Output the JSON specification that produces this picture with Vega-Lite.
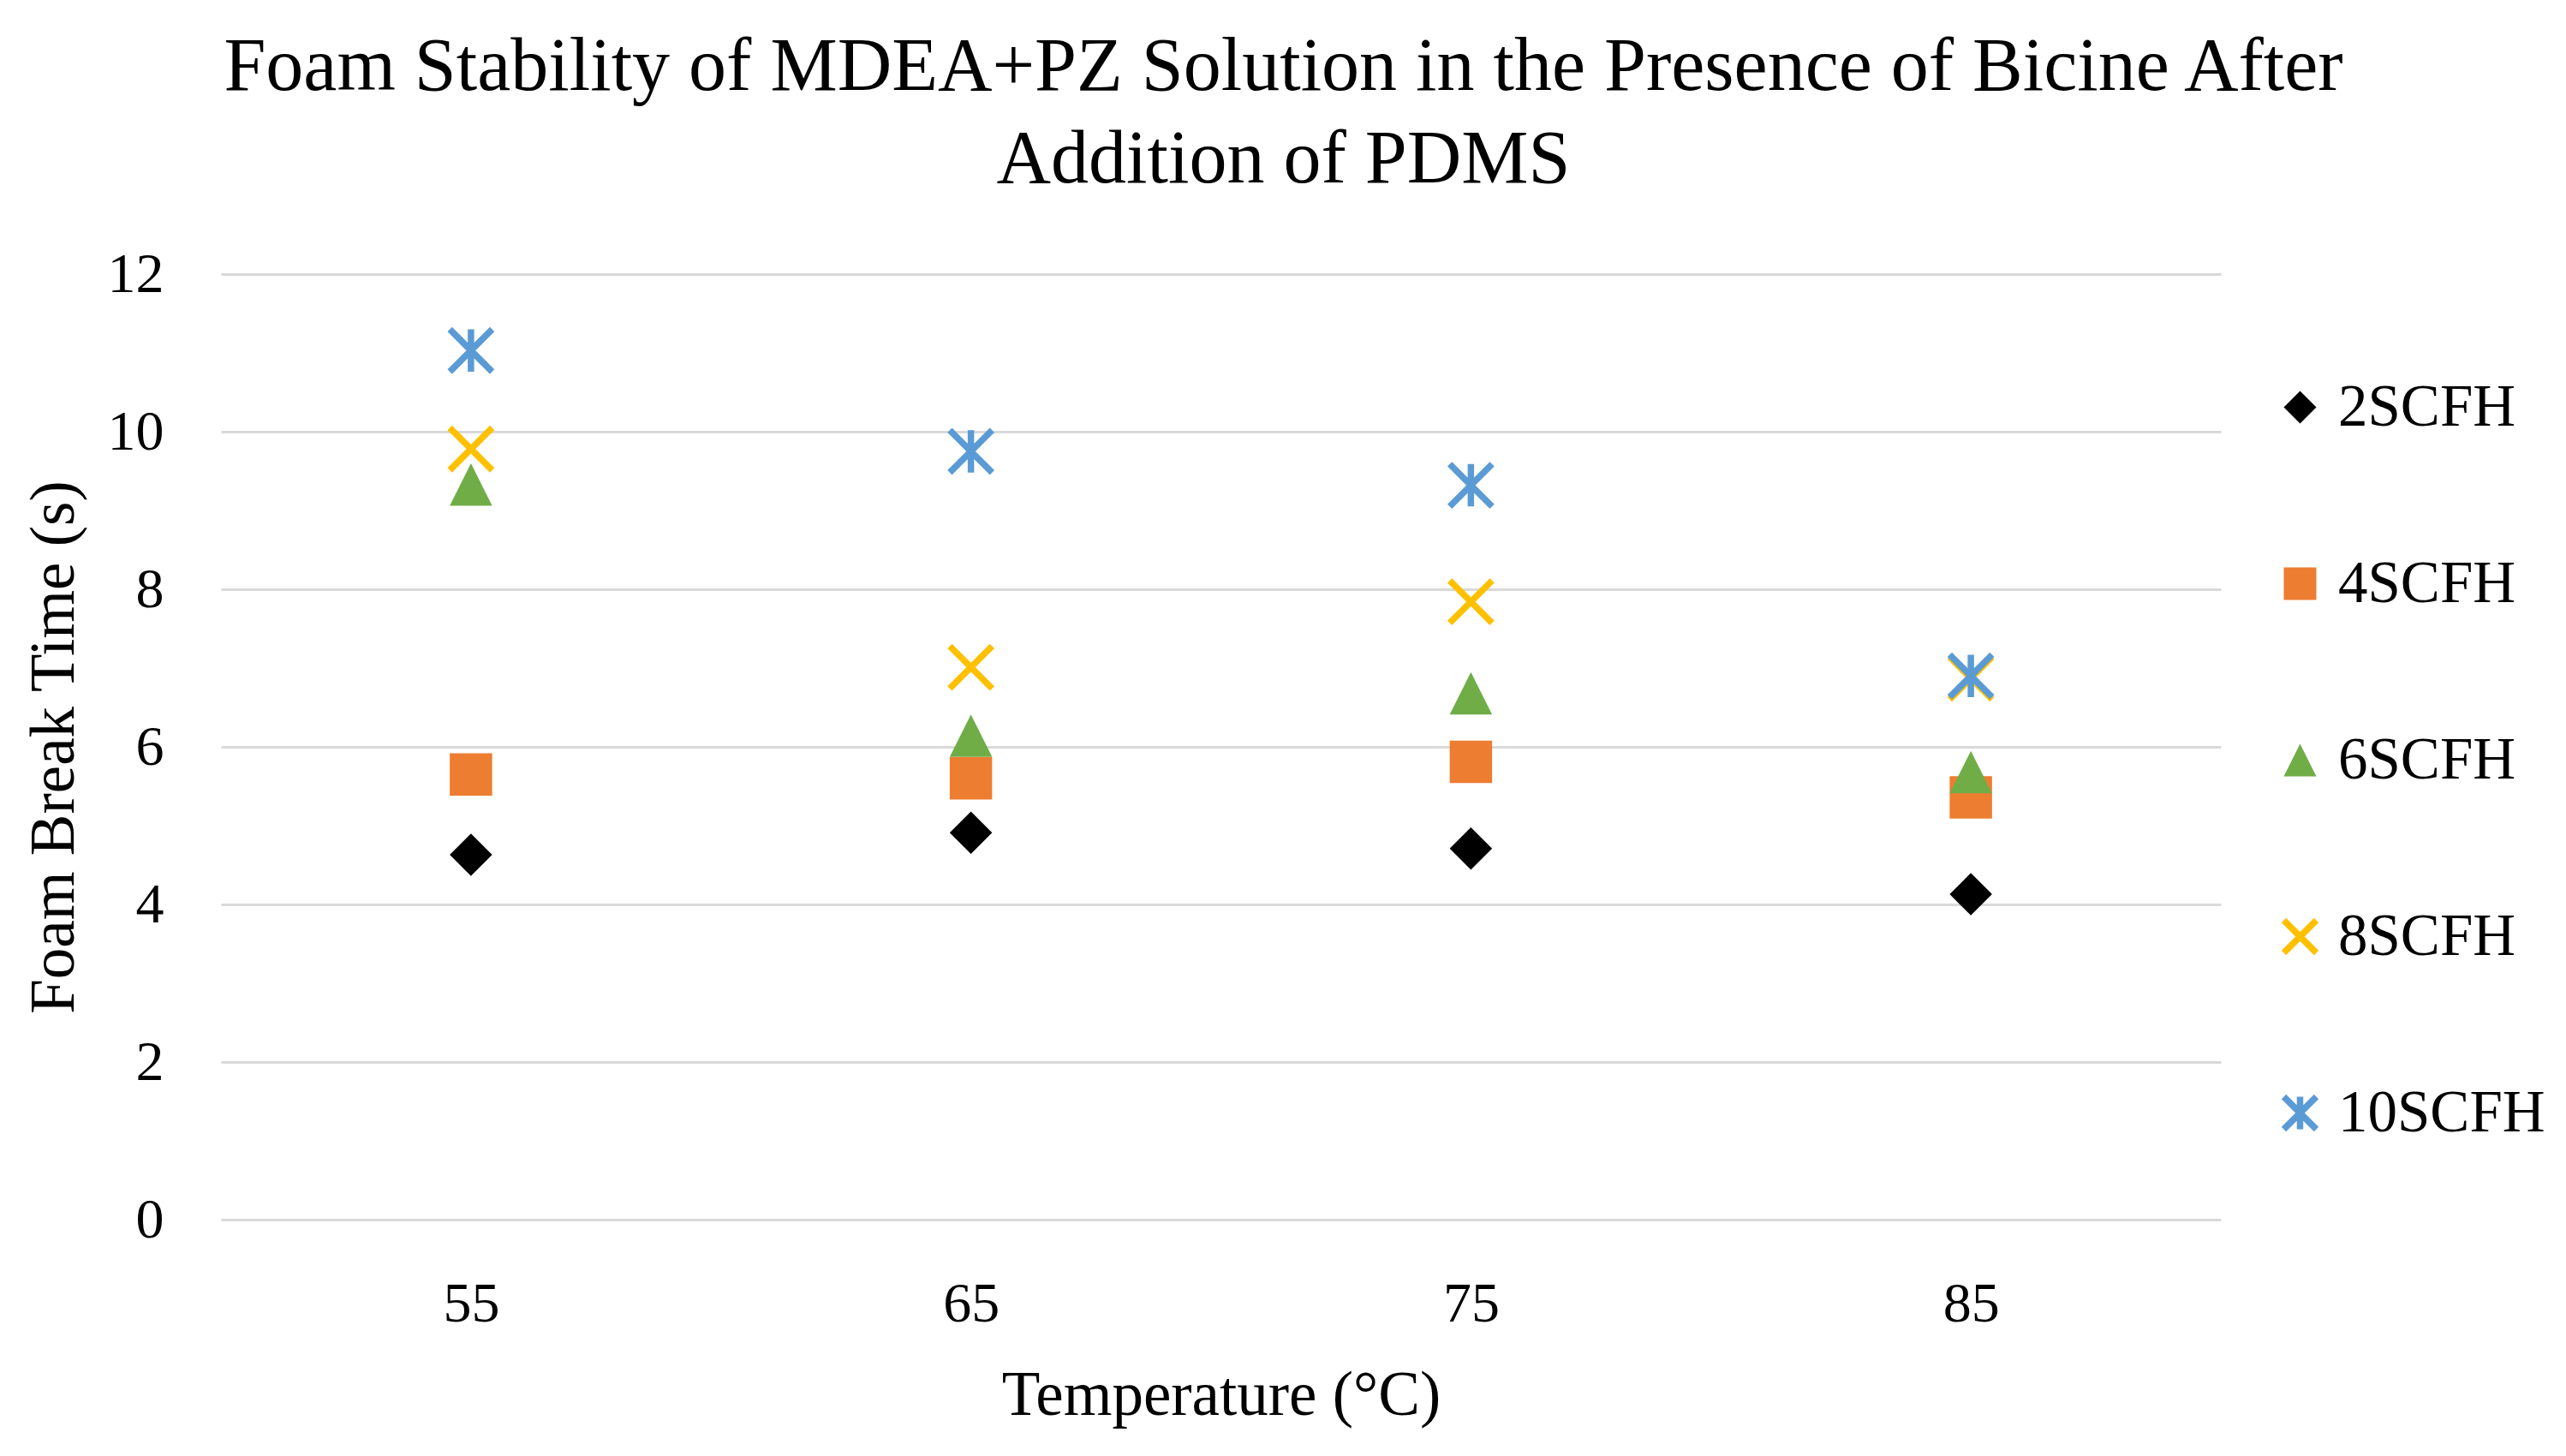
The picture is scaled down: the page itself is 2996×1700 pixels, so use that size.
{
  "$schema": "https://vega.github.io/schema/vega-lite/v6.json",
  "autosize": {"type": "none"},
  "padding": {"left": 258, "top": 320, "right": 403, "bottom": 276},
  "width": 2335,
  "height": 1104,
  "background": "white",
  "title": {
    "text": ["Foam Stability of MDEA+PZ Solution in the Presence of Bicine After", "Addition of PDMS"],
    "font": "Liberation Serif",
    "fontSize": 88,
    "fontWeight": "normal",
    "color": "#000000",
    "lineHeight": 108,
    "anchor": "middle",
    "frame": "group",
    "dx": 73,
    "offset": 56
  },
  "data": {
    "values": [
      {"temp": "55", "series": "2SCFH", "time": 4.63},
      {"temp": "65", "series": "2SCFH", "time": 4.91},
      {"temp": "75", "series": "2SCFH", "time": 4.71},
      {"temp": "85", "series": "2SCFH", "time": 4.13},
      {"temp": "55", "series": "4SCFH", "time": 5.65},
      {"temp": "65", "series": "4SCFH", "time": 5.6},
      {"temp": "75", "series": "4SCFH", "time": 5.81},
      {"temp": "85", "series": "4SCFH", "time": 5.36},
      {"temp": "55", "series": "6SCFH", "time": 9.33},
      {"temp": "65", "series": "6SCFH", "time": 6.14},
      {"temp": "75", "series": "6SCFH", "time": 6.68},
      {"temp": "85", "series": "6SCFH", "time": 5.68},
      {"temp": "55", "series": "8SCFH", "time": 9.78},
      {"temp": "65", "series": "8SCFH", "time": 7.01},
      {"temp": "75", "series": "8SCFH", "time": 7.84},
      {"temp": "85", "series": "8SCFH", "time": 6.87},
      {"temp": "55", "series": "10SCFH", "time": 11.03},
      {"temp": "65", "series": "10SCFH", "time": 9.75},
      {"temp": "75", "series": "10SCFH", "time": 9.32},
      {"temp": "85", "series": "10SCFH", "time": 6.9}
    ]
  },
  "mark": {"type": "point", "size": 2450, "opacity": 1, "strokeCap": "butt"},
  "encoding": {
    "x": {
      "field": "temp",
      "type": "ordinal",
      "scale": {"type": "point", "padding": 0.5},
      "axis": {
        "title": "Temperature (°C)",
        "labelAngle": 0,
        "domain": false,
        "ticks": false,
        "grid": false,
        "labelFont": "Liberation Serif",
        "labelFontSize": 66,
        "labelColor": "#000000",
        "labelPadding": 66,
        "titleFont": "Liberation Serif",
        "titleFontSize": 73,
        "titleFontWeight": "normal",
        "titleColor": "#000000",
        "titlePadding": 38
      }
    },
    "y": {
      "field": "time",
      "type": "quantitative",
      "scale": {"domain": [0, 12], "nice": false, "zero": true},
      "axis": {
        "title": "Foam Break Time (s)",
        "values": [0, 2, 4, 6, 8, 10, 12],
        "domain": false,
        "ticks": false,
        "grid": true,
        "gridColor": "#d9d9d9",
        "gridWidth": 3,
        "labelFont": "Liberation Serif",
        "labelFontSize": 66,
        "labelColor": "#000000",
        "labelPadding": 67,
        "titleFont": "Liberation Serif",
        "titleFontSize": 73,
        "titleFontWeight": "normal",
        "titleColor": "#000000",
        "titlePadding": 25
      }
    },
    "shape": {
      "field": "series",
      "type": "nominal",
      "scale": {
        "domain": ["2SCFH", "4SCFH", "6SCFH", "8SCFH", "10SCFH"],
        "range": ["diamond", "square", "M0,-1L1,1L-1,1Z", "M-1,-1L1,1M1,-1L-1,1", "M-1,-1L1,1M1,-1L-1,1M0,-1L0,1"]
      },
      "legend": {
        "title": null,
        "orient": "none",
        "legendX": 2393,
        "legendY": 121,
        "padding": 0,
        "symbolSize": 1444,
        "rowPadding": 136,
        "labelOffset": 10,
        "labelFont": "Liberation Serif",
        "labelFontSize": 69,
        "labelColor": "#000000",
        "labelLimit": 500,
        "symbolOpacity": 1
      }
    },
    "fill": {
      "field": "series",
      "type": "nominal",
      "scale": {
        "domain": ["2SCFH", "4SCFH", "6SCFH", "8SCFH", "10SCFH"],
        "range": ["#000000", "#ED7D31", "#70AD47", "#FFC000", "#5B9BD5"]
      },
      "legend": {
        "title": null,
        "orient": "none",
        "legendX": 2393,
        "legendY": 121,
        "padding": 0,
        "symbolSize": 1444,
        "rowPadding": 136,
        "labelOffset": 10,
        "labelFont": "Liberation Serif",
        "labelFontSize": 69,
        "labelColor": "#000000",
        "labelLimit": 500
      }
    },
    "stroke": {
      "field": "series",
      "type": "nominal",
      "scale": {
        "domain": ["2SCFH", "4SCFH", "6SCFH", "8SCFH", "10SCFH"],
        "range": ["#000000", "#ED7D31", "#70AD47", "#FFC000", "#5B9BD5"]
      },
      "legend": {
        "title": null,
        "orient": "none",
        "legendX": 2393,
        "legendY": 121,
        "padding": 0,
        "symbolSize": 1444,
        "rowPadding": 136,
        "labelOffset": 10,
        "labelFont": "Liberation Serif",
        "labelFontSize": 69,
        "labelColor": "#000000",
        "labelLimit": 500
      }
    },
    "strokeWidth": {
      "field": "series",
      "type": "nominal",
      "scale": {
        "type": "ordinal",
        "domain": ["2SCFH", "4SCFH", "6SCFH", "8SCFH", "10SCFH"],
        "range": [0, 0, 0, 7.5, 7.5]
      },
      "legend": {
        "title": null,
        "orient": "none",
        "legendX": 2393,
        "legendY": 121,
        "padding": 0,
        "symbolSize": 1444,
        "rowPadding": 136,
        "labelOffset": 10,
        "labelFont": "Liberation Serif",
        "labelFontSize": 69,
        "labelColor": "#000000",
        "labelLimit": 500
      }
    }
  },
  "config": {
    "view": {"stroke": null},
    "legend": {"symbolOpacity": 1}
  }
}
